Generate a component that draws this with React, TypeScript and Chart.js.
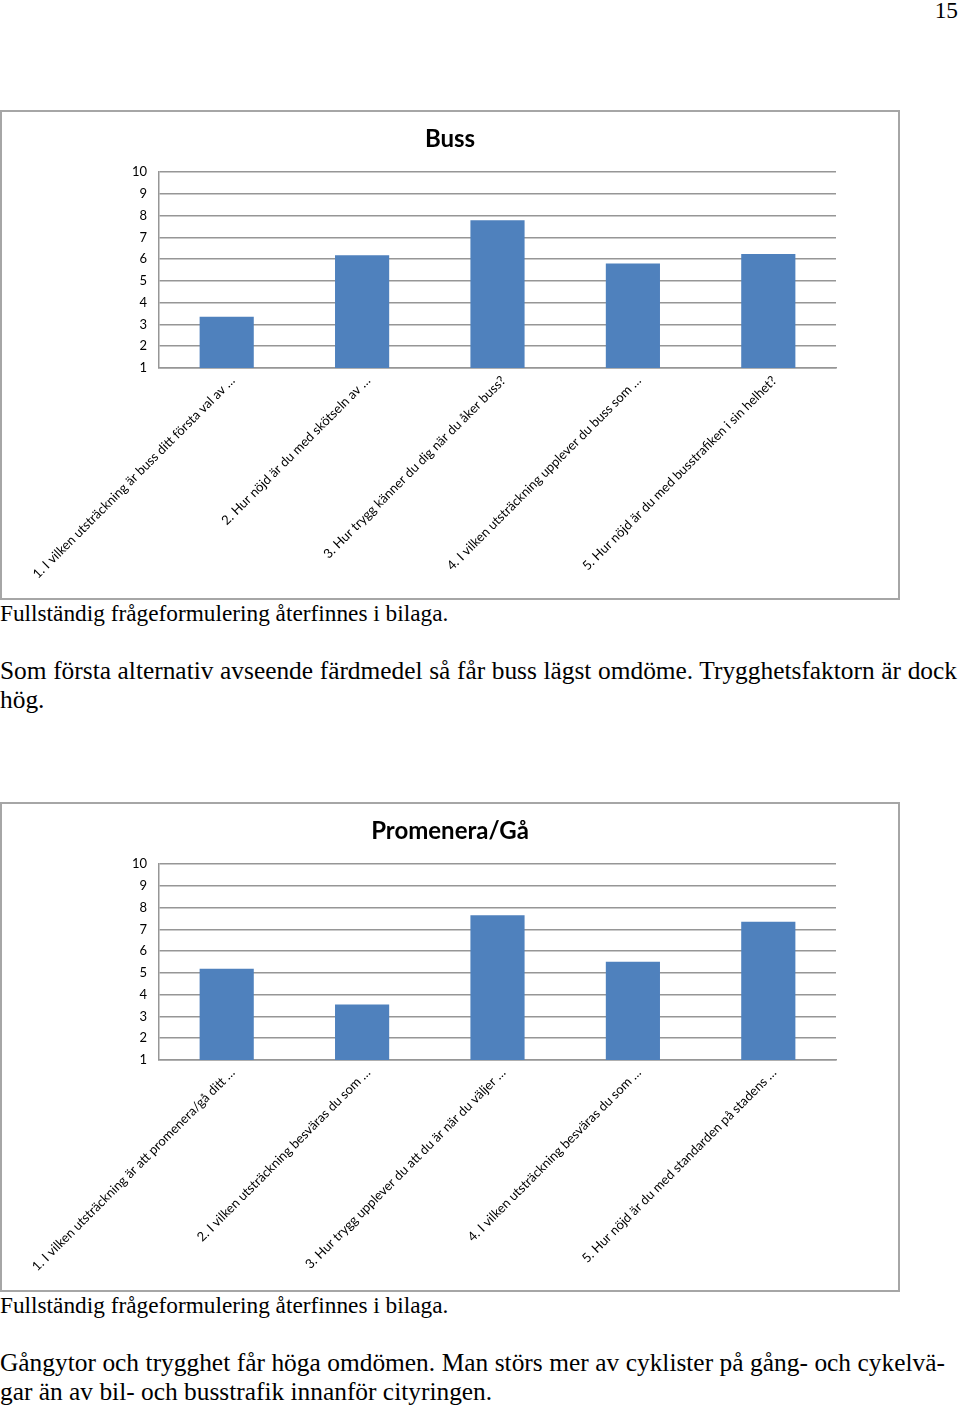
import React, { useEffect, useRef } from "react";
import { Chart, registerables } from "chart.js";

Chart.register(...registerables);

// ---- data ----
const bussTitle = "Buss";
const bussLabels = [
  "1. I vilken utsträckning är buss ditt första val av …",
  "2. Hur nöjd är du med skötseln av …",
  "3. Hur trygg känner du dig när du åker buss?",
  "4. I vilken utsträckning upplever du buss som …",
  "5. Hur nöjd är du med busstrafiken i sin helhet?",
];
const bussValues = [3.35, 6.18, 7.79, 5.8, 6.24];

const gaTitle = "Promenera/Gå";
const gaLabels = [
  "1. I vilken utsträckning är att promenera/gå ditt …",
  "2. I vilken utsträckning besväras du som …",
  "3. Hur trygg upplever du att du är när du väljer …",
  "4. I vilken utsträckning besväras du som …",
  "5. Hur nöjd är du med standarden på stadens …",
];
const gaValues = [5.19, 3.55, 7.65, 5.51, 7.35];

const yMin = 1;
const yMax = 10;
const yStep = 1;

const pageNumber = "15";
const note = "Fullständig frågeformulering återfinnes i bilaga.";
const bussText = [
  "Som första alternativ avseende färdmedel så får buss lägst omdöme. Trygghetsfaktorn är dock",
  "hög.",
];
const gaText = [
  "Gångytor och trygghet får höga omdömen. Man störs mer av cyklister på gång- och cykelvä-",
  "gar än av bil- och busstrafik innanför cityringen.",
];

const GRID = "#969696";
const BAR = "#4F81BD";
const SERIF = '"Liberation Serif", "Times New Roman", serif';

function BarChart(props: { title: string; labels: string[]; values: number[] }) {
  const ref = useRef<HTMLCanvasElement | null>(null);
  useEffect(() => {
    if (!ref.current) return;
    const chart = new Chart(ref.current, {
      type: "bar",
      data: {
        labels: props.labels,
        datasets: [
          {
            data: props.values,
            backgroundColor: BAR,
            borderWidth: 0,
            barPercentage: 0.4,
            categoryPercentage: 1,
            yAxisID: "y",
          },
        ],
      },
      options: {
        responsive: false,
        animation: false,
        devicePixelRatio: 1,
        layout: { padding: 0 },
        plugins: {
          legend: { display: false },
          tooltip: { enabled: false },
          title: {
            display: true,
            text: props.title,
            color: "#000",
            font: { family: "Lato", size: 24, weight: "bold", lineHeight: 1.2 },
            padding: { top: 12.5, bottom: 18.7 },
          },
        },
        scales: {
          x: {
            grid: { display: false, drawTicks: false },
            border: { display: true, color: GRID, width: 1.5 },
            ticks: {
              autoSkip: false,
              maxRotation: 45,
              minRotation: 45,
              padding: 5,
              labelOffset: 6,
              color: "#000",
              font: { family: "Lato", size: 13 },
            },
            afterFit: (s: any) => {
              s.height = 230;
            },
          },
          y: {
            min: yMin,
            max: yMax,
            ticks: {
              stepSize: yStep,
              padding: 12,
              color: "#000",
              font: { family: "Lato", size: 13 },
            },
            grid: { color: GRID, drawTicks: false, lineWidth: 1.5 },
            border: { display: true, color: GRID, width: 1.5 },
            afterFit: (s: any) => {
              s.width = 157;
            },
          },
          yRight: {
            position: "right",
            display: true,
            min: yMin,
            max: yMax,
            grid: { display: false, drawTicks: false },
            border: { display: false },
            ticks: { display: false },
            afterFit: (s: any) => {
              s.width = 62;
            },
          },
        },
      },
    } as any);
    return () => chart.destroy();
  }, []);
  return <canvas ref={ref} width={896} height={486} style={{ display: "block" }} />;
}

function Box(props: { top: number; children: React.ReactNode }) {
  return (
    <div
      style={{
        position: "absolute",
        left: 0,
        top: props.top,
        width: 896,
        height: 486,
        border: "2px solid #a6a6a6",
        background: "#fff",
      }}
    >
      {props.children}
    </div>
  );
}

function Line(props: {
  top: number;
  text: string;
  size: number;
  right?: boolean;
  width?: number;
}) {
  const justify = props.width !== undefined;
  return (
    <div
      style={{
        position: "absolute",
        left: props.right ? undefined : 0,
        right: props.right ? 2 : undefined,
        top: props.top,
        width: props.width,
        fontFamily: SERIF,
        fontSize: props.size,
        lineHeight: "29px",
        whiteSpace: justify ? "normal" : "nowrap",
        textAlign: justify ? "justify" : undefined,
        textAlignLast: justify ? "justify" : undefined,
        color: "#000",
      } as any}
    >
      {props.text}
    </div>
  );
}

const NOTE_SIZE = 23.3;
const BODY_SIZE = 25.4;

export default function App() {
  return (
    <div
      style={{
        position: "absolute",
        left: 0,
        top: 0,
        width: 960,
        height: 1407,
        background: "#fff",
        overflow: "hidden",
      }}
    >
      <Line top={-4} text={pageNumber} size={NOTE_SIZE} right />
      <Box top={110}>
        <BarChart title={bussTitle} labels={bussLabels} values={bussValues} />
      </Box>
      <Line top={599} text={note} size={NOTE_SIZE} />
      <Line top={656} text={bussText[0]} size={BODY_SIZE} width={957} />
      <Line top={685} text={bussText[1]} size={BODY_SIZE} />
      <Box top={802}>
        <BarChart title={gaTitle} labels={gaLabels} values={gaValues} />
      </Box>
      <Line top={1291} text={note} size={NOTE_SIZE} />
      <Line top={1348} text={gaText[0]} size={BODY_SIZE} width={945} />
      <Line top={1377} text={gaText[1]} size={BODY_SIZE} />
    </div>
  );
}
